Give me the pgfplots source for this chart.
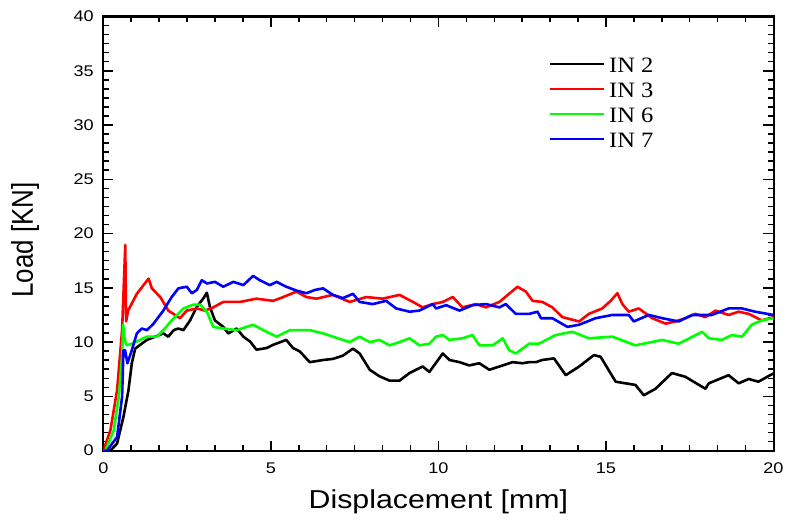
\documentclass[border=0pt]{standalone}
\usepackage{fontspec}
\setmainfont{Liberation Sans}[FakeStretch=1.17]
\newfontfamily\plainsans{Liberation Sans}
\newfontfamily\legendfont{Liberation Serif}[FakeStretch=1.12]
\usepackage{pgfplots}
\pgfplotsset{compat=1.18}
\definecolor{cred}{RGB}{255,0,0}
\definecolor{cgreen}{RGB}{0,255,0}
\definecolor{cblue}{RGB}{0,0,255}
\begin{document}
\begin{tikzpicture}
\begin{axis}[
  width=670bp, height=434bp, scale only axis,
  xmin=0, xmax=20, ymin=0, ymax=40,
  xtick distance=5, ytick distance=5,
  minor tick num=5,
  tick align=inside,
  major tick length=10bp, minor tick length=5.5bp,
  axis line style={line width=2bp},
  every tick/.style={black, line width=1.5bp},
  /pgf/number format/assume math mode=true,
  tick label style={font=\fontsize{15.5}{18}\selectfont},
  xticklabel style={anchor=base, yshift=-23bp, inner sep=0pt},
  yticklabel style={anchor=east, xshift=-9.5bp, inner sep=0pt},
  xlabel={Displacement [mm]},
  ylabel={\scalebox{1}[1.16]{\plainsans Load [KN]}},
  label style={font=\fontsize{26}{30}\selectfont},
  xlabel style={at={(axis description cs:0.5,0)}, anchor=base, yshift=-57.5bp, inner sep=0pt},
  ylabel style={at={(axis description cs:-0.1169,0.485)}, anchor=center, inner sep=0pt},
  legend cell align=left,
  legend image code/.code={\draw[#1, line width=2bp] (0bp,1bp) -- (54bp,1bp);},
  legend style={draw=none, fill=none, at={(axis description cs:0.665,0.9064)}, anchor=north west,
    inner sep=0pt, row sep=10bp, column sep=4bp,
    nodes={inner sep=0pt, text height=15bp, text depth=0bp},
    font=\fontsize{22}{24}\selectfont\legendfont},
  every axis plot/.append style={line width=2.6bp, line join=round},
]
\addplot[black] coordinates {
(0,0) (0.21,0) (0.41,0.65) (0.6,3.1) (0.75,5.55) (0.85,8.05) (0.95,9.4) (1.1,9.75) (1.3,10.2)
(1.55,10.5) (1.79,10.8) (1.94,10.5) (2.1,11.1) (2.24,11.25) (2.39,11.1) (2.59,12.0) (2.79,13.25)
(2.99,14.05) (3.09,14.55) (3.18,13.25) (3.33,12.0) (3.58,11.4) (3.73,10.8) (3.98,11.25) (4.18,10.5)
(4.38,10.05) (4.57,9.3) (4.87,9.45) (5.07,9.75) (5.46,10.2) (5.66,9.45) (5.86,9.15) (6.16,8.15)
(6.56,8.35) (6.85,8.45) (7.15,8.75) (7.45,9.4) (7.65,8.95) (7.95,7.45) (8.24,6.85) (8.54,6.45)
(8.84,6.45) (9.14,7.15) (9.53,7.75) (9.73,7.25) (10.13,8.95) (10.33,8.35) (10.63,8.15) (10.92,7.85)
(11.22,8.05) (11.52,7.45) (11.82,7.75) (12.21,8.15) (12.51,8.05) (12.71,8.15) (12.91,8.15) (13.1,8.35)
(13.45,8.5) (13.8,6.95) (14.2,7.75) (14.64,8.8) (14.84,8.65) (15.29,6.35) (15.88,6.05) (16.13,5.1)
(16.48,5.7) (16.97,7.15) (17.37,6.8) (17.97,5.7) (18.07,6.2) (18.66,6.95) (18.96,6.2)
(19.26,6.6) (19.55,6.35) (19.9,6.95) (20,7.1)
};
\addlegendentry{IN 2}
\addplot[cred] coordinates {
(0,0) (0.21,1.85) (0.41,5.55) (0.56,11.1) (0.655,18.95) (0.68,11.9) (0.74,12.9) (1.0,14.45)
(1.35,15.85) (1.45,14.95) (1.7,14.15) (1.94,12.9) (2.29,12.2) (2.49,12.9) (2.79,13.1) (3.04,12.9)
(3.28,13.2) (3.58,13.7) (4.08,13.7) (4.57,14.0) (5.07,13.8) (5.37,14.15) (5.76,14.65) (6.06,14.15)
(6.36,14.0) (6.85,14.35) (7.35,13.7) (7.85,14.15) (8.34,14.0) (8.84,14.35) (9.24,13.7) (9.53,13.2)
(9.83,13.5) (10.13,13.7) (10.43,14.15) (10.72,13.2) (11.12,13.5) (11.42,13.2) (11.82,13.7)
(12.11,14.45) (12.36,15.1) (12.61,14.65) (12.81,13.8) (13.1,13.7) (13.4,13.2) (13.7,12.3)
(14.2,11.9) (14.49,12.6) (14.89,13.1) (15.14,13.8) (15.34,14.5) (15.49,13.5) (15.68,12.8)
(15.98,13.1) (16.38,12.2) (16.78,11.7) (17.07,11.9) (17.37,12.2) (17.67,12.6) (17.97,12.3)
(18.27,12.9) (18.66,12.5) (18.96,12.8) (19.26,12.6) (19.65,12.0) (20,12.3)
};
\addlegendentry{IN 3}
\addplot[cgreen] coordinates {
(0,0) (0.06,0) (0.31,1.85) (0.46,4.95) (0.56,8.65) (0.59,11.6) (0.64,10.2) (0.7,9.7) (0.85,9.85)
(1.1,10.2) (1.3,10.5) (1.6,10.5) (1.79,11.1) (2.1,12.2) (2.39,13.1) (2.69,13.45) (2.89,13.45)
(3.09,12.8) (3.28,11.4) (3.58,11.25) (3.98,11.1) (4.47,11.6) (4.87,10.95) (5.17,10.5)
(5.57,11.1) (5.86,11.1) (6.16,11.1) (6.56,10.8) (6.85,10.5) (7.15,10.2) (7.35,10.0) (7.65,10.5)
(7.95,10.0) (8.24,10.2) (8.54,9.7) (8.84,10.0) (9.14,10.35) (9.43,9.7) (9.73,9.85) (9.93,10.5)
(10.13,10.65) (10.33,10.2) (10.72,10.35) (11.02,10.65) (11.22,9.7) (11.62,9.7) (11.92,10.35)
(12.11,9.25) (12.31,8.95) (12.71,9.85) (13.0,9.85) (13.5,10.65) (14.0,10.95) (14.49,10.35)
(15.19,10.5) (15.88,9.7) (16.68,10.2) (17.17,9.85) (17.87,10.95) (18.07,10.35) (18.46,10.2)
(18.76,10.65) (19.06,10.5) (19.35,11.6) (19.65,12.0) (20,12.2)
};
\addlegendentry{IN 6}
\addplot[cblue] coordinates {
(0,0) (0.11,0) (0.41,1.25) (0.56,4.95) (0.6,9.25) (0.65,9.25) (0.72,8.05) (0.85,9.25) (1.0,10.8)
(1.15,11.25) (1.3,11.1) (1.5,11.7) (1.79,12.9) (2.04,14.15) (2.24,14.95) (2.49,15.1) (2.64,14.5)
(2.79,14.8) (2.94,15.7) (3.09,15.4) (3.33,15.55) (3.58,15.1) (3.88,15.55) (4.18,15.25)
(4.47,16.1) (4.67,15.7) (4.97,15.25) (5.17,15.55) (5.46,15.1) (5.76,14.75) (6.06,14.5)
(6.31,14.8) (6.56,14.95) (6.85,14.35) (7.15,14.05) (7.45,14.45) (7.65,13.7) (8.04,13.5)
(8.44,13.8) (8.74,13.1) (9.14,12.8) (9.43,12.9) (9.83,13.5) (9.93,13.1) (10.23,13.4)
(10.63,12.9) (11.02,13.4) (11.42,13.5) (11.82,13.2) (12.01,13.5) (12.31,12.6) (12.71,12.6)
(12.96,12.8) (13.06,12.2) (13.4,12.2) (13.85,11.4) (14.2,11.6) (14.69,12.2) (15.19,12.5)
(15.68,12.5) (15.83,11.9) (16.28,12.5) (16.68,12.2) (17.17,11.9) (17.57,12.5) (18.16,12.5)
(18.66,13.1) (19.06,13.1) (19.45,12.8) (20,12.5)
};
\addlegendentry{IN 7}
\end{axis}
\pgfresetboundingbox
\path ([xshift=-103.3bp,yshift=-69.5bp]current axis.south west) rectangle ([xshift=15.5bp,yshift=16.5bp]current axis.north east);
\end{tikzpicture}
\end{document}
